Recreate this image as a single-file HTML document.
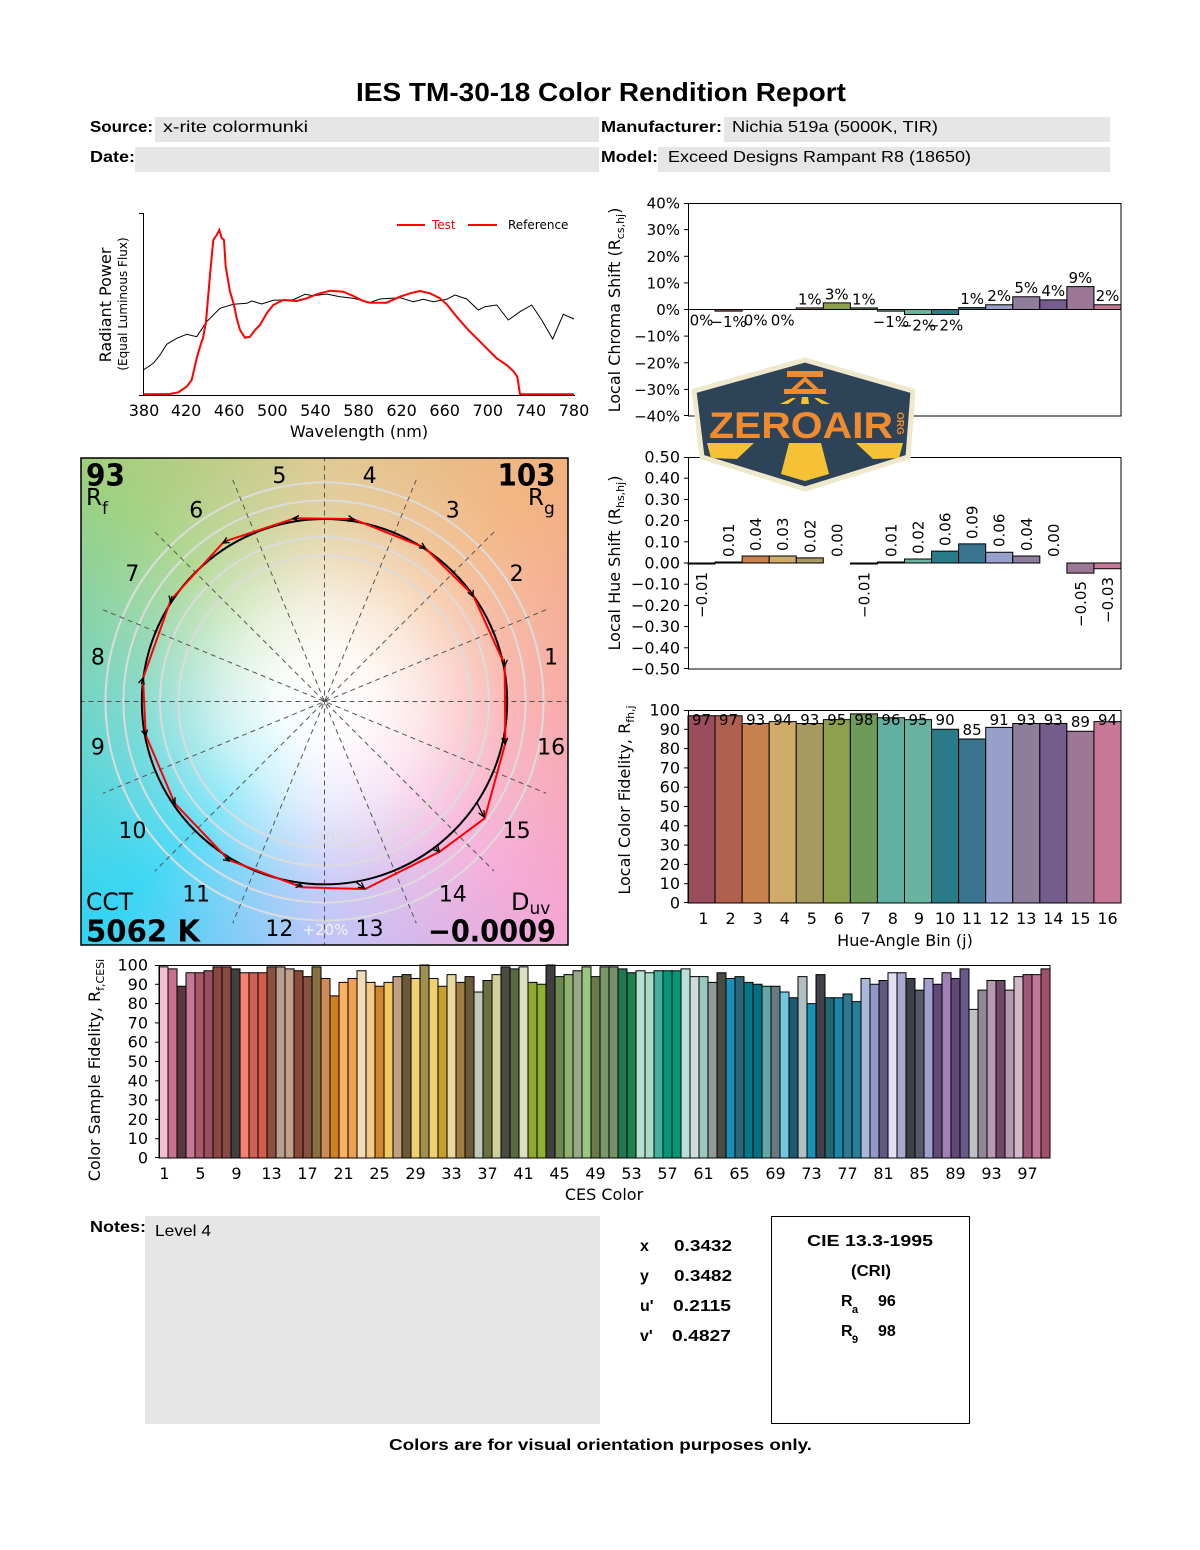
<!DOCTYPE html>
<html><head><meta charset="utf-8">
<style>
html,body{margin:0;padding:0;background:#fff;}
body{width:1200px;height:1550px;position:relative;overflow:hidden;}
#vg{position:absolute;left:81px;top:458px;width:487px;height:487px;
background: radial-gradient(circle at 50% 50%, rgba(255,255,255,1) 0px, rgba(255,255,255,0.95) 45px, rgba(255,255,255,0.72) 100px, rgba(255,255,255,0.42) 150px, rgba(255,255,255,0.2) 190px, rgba(255,255,255,0.06) 260px, rgba(255,255,255,0) 330px), conic-gradient(from 0deg at 50% 50%, #dcc488 0deg, #f2b27e 45deg, #f8a2a0 90deg, #f4a6d6 135deg, #b8bef8 180deg, #30d4f4 225deg, #64d0c0 270deg, #9ed07c 315deg, #dcc488 360deg);}
svg{position:absolute;left:0;top:0;}
.nb rect{vector-effect:non-scaling-stroke;stroke:#000;stroke-width:1;}
.d{font-family:"DejaVu Sans",sans-serif;}
.h{font-family:"Liberation Sans",sans-serif;}
</style></head><body>
<div id="vg"></div>
<svg width="1200" height="1550" viewBox="0 0 1200 1550" xmlns="http://www.w3.org/2000/svg">
<defs>
<clipPath id="vgc"><rect x="81" y="458" width="487" height="487"/></clipPath>
<marker id="ah" markerWidth="8" markerHeight="8" refX="7" refY="4" orient="auto" markerUnits="userSpaceOnUse"><path d="M1,1 L7,4 L1,7" fill="none" stroke="#000" stroke-width="1.3"/></marker>
</defs>

<!-- HEADER -->
<text class="h" x="356" y="101" font-size="26" font-weight="bold" textLength="490" lengthAdjust="spacingAndGlyphs">IES TM-30-18 Color Rendition Report</text>
<rect x="155" y="117" width="444" height="25" fill="#e6e6e6"/>
<rect x="724" y="117" width="386" height="25" fill="#e6e6e6"/>
<rect x="135" y="147" width="464" height="25" fill="#e6e6e6"/>
<rect x="658" y="147" width="452" height="25" fill="#e6e6e6"/>
<g class="h" font-size="16">
<text x="90" y="132" font-weight="bold" textLength="63" lengthAdjust="spacingAndGlyphs">Source:</text>
<text x="163" y="132" textLength="145" lengthAdjust="spacingAndGlyphs">x-rite colormunki</text>
<text x="601" y="132" font-weight="bold" textLength="121" lengthAdjust="spacingAndGlyphs">Manufacturer:</text>
<text x="732" y="132" textLength="206" lengthAdjust="spacingAndGlyphs">Nichia 519a (5000K, TIR)</text>
<text x="90" y="162" font-weight="bold" textLength="45" lengthAdjust="spacingAndGlyphs">Date:</text>
<text x="601" y="162" font-weight="bold" textLength="57" lengthAdjust="spacingAndGlyphs">Model:</text>
<text x="668" y="162" textLength="303" lengthAdjust="spacingAndGlyphs">Exceed Designs Rampant R8 (18650)</text>
</g>

<!-- SPECTRUM -->
<g stroke="#000" stroke-width="1">
<line x1="143.5" y1="213" x2="143.5" y2="396"/>
<line x1="143" y1="395.5" x2="575" y2="395.5"/>
<line x1="139" y1="213.5" x2="143" y2="213.5"/>
<line x1="139" y1="395.5" x2="143" y2="395.5"/>
</g>
<polyline fill="none" stroke="#000" stroke-width="1" points="143.3,370 153.3,363.3 160,355 166.7,344.3 176.7,338.3 186.7,334.3 196.7,336.7 206.7,321.7 220,308.3 233.3,304.3 246.7,303.3 251.7,301 261.7,304 273.3,300.3 293.3,299.7 305,294.3 313.3,295.7 326.7,294 340,296.7 353.3,298.3 370,302.3 380,299 400,297.7 413.3,301.7 423.3,299.3 433.3,301.7 446.7,299.3 455,295 466.7,299 478.3,310 485,306.7 496.7,305 508.3,320 520,311.7 531.7,305 541.7,320 552.7,339 563.3,314.3 574,319"/>
<polyline fill="none" stroke="#f00" stroke-width="2" points="143.3,394.3 170,394 178.3,392.3 186.7,386.7 191.7,380 196.7,358.3 200,346.7 203,338 206,321.7 210,275 213.3,240 216.7,235 219.3,230 221.7,238 224,240 225.7,266.7 230,291.7 234,305 236.7,318.3 240,330 245,337.7 250,336.7 255,330 260,325 266.7,313.3 273.3,305 283.3,300 296.7,301 306.7,298.3 316.7,294.3 330,290.7 343.3,291.7 353.3,296 363.3,301 370,302.7 386.7,302.7 400,296.7 410,293.3 420,291 430,293.3 440,298.3 446.7,304.3 456.7,316.7 468.3,330 476.7,338.3 486.7,348.3 496.7,358.3 506.7,365 513.3,371 517.3,376.7 520,394.3 574,394.3"/>
<line x1="397" y1="225" x2="425" y2="225" stroke="#f00" stroke-width="2"/>
<text class="d" x="432" y="229" font-size="12" fill="#f00">Test</text>
<line x1="468" y1="225" x2="497" y2="225" stroke="#f00" stroke-width="2"/>
<text class="d" x="508" y="229" font-size="12">Reference</text>
<g class="d" font-size="16" text-anchor="middle">
<text x="144" y="416">380</text><text x="186.1" y="416">420</text><text x="229.2" y="416">460</text><text x="272.3" y="416">500</text><text x="315.4" y="416">540</text><text x="358.5" y="416">580</text><text x="401.6" y="416">620</text><text x="444.7" y="416">660</text><text x="487.8" y="416">700</text><text x="530.9" y="416">740</text><text x="574" y="416">780</text>
<text x="359" y="437">Wavelength (nm)</text>
<text transform="translate(111,305) rotate(-90)">Radiant Power</text>
<text transform="translate(127,304) rotate(-90)" font-size="12">(Equal Luminous Flux)</text>
</g>

<!-- CHROMA SHIFT -->
<rect x="688.5" y="203.5" width="432.5" height="212.5" fill="none" stroke="#000"/>
<g class="nb" transform="translate(688,309.5) scale(27.0625,-2.66)">
<rect x="1" y="-0.6" width="1" height="0.6" fill="#b0604e"/>
<rect x="4" y="0" width="1" height="0.6" fill="#a89a5e"/>
<rect x="5" y="0" width="1" height="2.5" fill="#8ea04a"/>
<rect x="6" y="0" width="1" height="0.6" fill="#6e9a5a"/>
<rect x="7" y="-0.6" width="1" height="0.6" fill="#5eb0a0"/>
<rect x="8" y="-1.9" width="1" height="1.9" fill="#68b2a0"/>
<rect x="9" y="-1.9" width="1" height="1.9" fill="#2a7b88"/>
<rect x="10" y="0" width="1" height="0.7" fill="#3a7590"/>
<rect x="11" y="0" width="1" height="1.8" fill="#96a0c8"/>
<rect x="12" y="0" width="1" height="4.8" fill="#8e7e9c"/>
<rect x="13" y="0" width="1" height="3.6" fill="#745c8c"/>
<rect x="14" y="0" width="1" height="8.6" fill="#9c7896"/>
<rect x="15" y="0" width="1" height="1.8" fill="#c87896"/>
</g>
<line x1="688" y1="309.5" x2="1121" y2="309.5" stroke="#000" stroke-width="1"/>
<g stroke="#000"><line x1="684" y1="203.5" x2="688" y2="203.5"/><line x1="684" y1="229.6" x2="688" y2="229.6"/><line x1="684" y1="256.3" x2="688" y2="256.3"/><line x1="684" y1="282.9" x2="688" y2="282.9"/><line x1="684" y1="309.5" x2="688" y2="309.5"/><line x1="684" y1="336.1" x2="688" y2="336.1"/><line x1="684" y1="362.8" x2="688" y2="362.8"/><line x1="684" y1="389.4" x2="688" y2="389.4"/><line x1="684" y1="415.5" x2="688" y2="415.5"/></g>
<g class="d" font-size="15" text-anchor="end">
<text x="680" y="208.5">40%</text><text x="680" y="235.1">30%</text><text x="680" y="261.8">20%</text><text x="680" y="288.4">10%</text><text x="680" y="315">0%</text><text x="680" y="341.6">−10%</text><text x="680" y="368.3">−20%</text><text x="680" y="394.9">−30%</text><text x="680" y="421.5">−40%</text>
</g>
<g class="d" font-size="15" text-anchor="middle">
<text x="701.5" y="325.5">0%</text><text x="728.6" y="327">−1%</text><text x="755.7" y="325.5">0%</text><text x="782.7" y="325.5">0%</text>
<text x="809.8" y="304.5">1%</text><text x="836.8" y="299.5">3%</text><text x="863.9" y="304.5">1%</text>
<text x="890.9" y="327">−1%</text><text x="918" y="330.5">−2%</text><text x="945.1" y="330.5">−2%</text>
<text x="972.1" y="304">1%</text><text x="999.2" y="301">2%</text><text x="1026.3" y="293">5%</text><text x="1053.3" y="296">4%</text><text x="1080.4" y="283">9%</text><text x="1107.5" y="301">2%</text>
</g>
<text class="d" transform="translate(620,310) rotate(-90)" text-anchor="middle" font-size="16">Local Chroma Shift (R<tspan font-size="11" dy="4">cs,hj</tspan><tspan dy="-4">)</tspan></text>

<!-- HUE SHIFT -->
<rect x="688.5" y="457.5" width="432.5" height="211.5" fill="none" stroke="#000"/>
<g class="nb" transform="translate(688,563) scale(27.0625,-212)">
<rect x="0" y="-0.005" width="1" height="0.005" fill="#9b4d5e"/>
<rect x="1" y="0" width="1" height="0.005" fill="#b0604e"/>
<rect x="2" y="0" width="1" height="0.033" fill="#c7804e"/>
<rect x="3" y="0" width="1" height="0.033" fill="#d0ac6a"/>
<rect x="4" y="0" width="1" height="0.024" fill="#a89a5e"/>
<rect x="6" y="-0.005" width="1" height="0.005" fill="#6e9a5a"/>
<rect x="7" y="0" width="1" height="0.005" fill="#5eb0a0"/>
<rect x="8" y="0" width="1" height="0.019" fill="#68b2a0"/>
<rect x="9" y="0" width="1" height="0.056" fill="#2a7b88"/>
<rect x="10" y="0" width="1" height="0.09" fill="#3a7590"/>
<rect x="11" y="0" width="1" height="0.051" fill="#96a0c8"/>
<rect x="12" y="0" width="1" height="0.033" fill="#8e7e9c"/>
<rect x="14" y="-0.048" width="1" height="0.048" fill="#9c7896"/>
<rect x="15" y="-0.027" width="1" height="0.027" fill="#c87896"/>
</g>
<g stroke="#000"><line x1="684" y1="457.5" x2="688" y2="457.5"/><line x1="684" y1="478.2" x2="688" y2="478.2"/><line x1="684" y1="499.4" x2="688" y2="499.4"/><line x1="684" y1="520.6" x2="688" y2="520.6"/><line x1="684" y1="541.8" x2="688" y2="541.8"/><line x1="684" y1="563" x2="688" y2="563"/><line x1="684" y1="584.2" x2="688" y2="584.2"/><line x1="684" y1="605.4" x2="688" y2="605.4"/><line x1="684" y1="626.6" x2="688" y2="626.6"/><line x1="684" y1="647.8" x2="688" y2="647.8"/><line x1="684" y1="668.5" x2="688" y2="668.5"/></g>
<g class="d" font-size="16" text-anchor="end">
<text x="680" y="462.5">0.50</text><text x="680" y="483.7">0.40</text><text x="680" y="504.9">0.30</text><text x="680" y="526.1">0.20</text><text x="680" y="547.3">0.10</text><text x="680" y="568.5">0.00</text><text x="680" y="589.7">−0.10</text><text x="680" y="610.9">−0.20</text><text x="680" y="632.1">−0.30</text><text x="680" y="653.3">−0.40</text><text x="680" y="674.5">−0.50</text>
</g>
<g class="d" font-size="15">
<text transform="translate(707,572) rotate(-90)" text-anchor="end">−0.01</text>
<text transform="translate(734.1,557) rotate(-90)">0.01</text>
<text transform="translate(761.2,551) rotate(-90)">0.04</text>
<text transform="translate(788.2,551) rotate(-90)">0.03</text>
<text transform="translate(815.3,553) rotate(-90)">0.02</text>
<text transform="translate(842.3,557) rotate(-90)">0.00</text>
<text transform="translate(869.4,572) rotate(-90)" text-anchor="end">−0.01</text>
<text transform="translate(896.4,557) rotate(-90)">0.01</text>
<text transform="translate(923.5,554) rotate(-90)">0.02</text>
<text transform="translate(950.6,546) rotate(-90)">0.06</text>
<text transform="translate(977.6,539) rotate(-90)">0.09</text>
<text transform="translate(1004.7,547) rotate(-90)">0.06</text>
<text transform="translate(1031.8,551) rotate(-90)">0.04</text>
<text transform="translate(1058.8,557) rotate(-90)">0.00</text>
<text transform="translate(1085.9,581) rotate(-90)" text-anchor="end">−0.05</text>
<text transform="translate(1113,577) rotate(-90)" text-anchor="end">−0.03</text>
</g>
<text class="d" transform="translate(620,563) rotate(-90)" text-anchor="middle" font-size="16">Local Hue Shift (R<tspan font-size="11" dy="4">hs,hj</tspan><tspan dy="-4">)</tspan></text>

<!-- LOCAL FIDELITY -->
<g class="nb" transform="translate(688,903) scale(27.0625,-1.93)">
<rect x="0" width="1" height="97" fill="#9b4d5e"/>
<rect x="1" width="1" height="97" fill="#b0604e"/>
<rect x="2" width="1" height="93" fill="#c7804e"/>
<rect x="3" width="1" height="94" fill="#d0ac6a"/>
<rect x="4" width="1" height="93" fill="#a89a5e"/>
<rect x="5" width="1" height="95" fill="#8ea04a"/>
<rect x="6" width="1" height="98" fill="#6e9a5a"/>
<rect x="7" width="1" height="96" fill="#5eb0a0"/>
<rect x="8" width="1" height="95" fill="#68b2a0"/>
<rect x="9" width="1" height="90" fill="#2a7b88"/>
<rect x="10" width="1" height="85" fill="#3a7590"/>
<rect x="11" width="1" height="91" fill="#96a0c8"/>
<rect x="12" width="1" height="93" fill="#8e7e9c"/>
<rect x="13" width="1" height="93" fill="#745c8c"/>
<rect x="14" width="1" height="89" fill="#9c7896"/>
<rect x="15" width="1" height="94" fill="#c87896"/>
</g>
<rect x="688.5" y="710.5" width="432.5" height="192.5" fill="none" stroke="#000"/>
<g stroke="#000"><line x1="684" y1="710.5" x2="688" y2="710.5"/><line x1="684" y1="729.3" x2="688" y2="729.3"/><line x1="684" y1="748.6" x2="688" y2="748.6"/><line x1="684" y1="767.9" x2="688" y2="767.9"/><line x1="684" y1="787.2" x2="688" y2="787.2"/><line x1="684" y1="806.5" x2="688" y2="806.5"/><line x1="684" y1="825.8" x2="688" y2="825.8"/><line x1="684" y1="845.1" x2="688" y2="845.1"/><line x1="684" y1="864.4" x2="688" y2="864.4"/><line x1="684" y1="883.7" x2="688" y2="883.7"/><line x1="684" y1="902.5" x2="688" y2="902.5"/></g>
<g class="d" font-size="16" text-anchor="end">
<text x="680" y="715.5">100</text><text x="680" y="734.8">90</text><text x="680" y="754.1">80</text><text x="680" y="773.4">70</text><text x="680" y="792.7">60</text><text x="680" y="812">50</text><text x="680" y="831.3">40</text><text x="680" y="850.6">30</text><text x="680" y="869.9">20</text><text x="680" y="889.2">10</text><text x="680" y="908.5">0</text>
</g>
<g class="d" font-size="15" text-anchor="middle">
<text x="701.5" y="725">97</text><text x="728.6" y="725">97</text><text x="755.7" y="725">93</text><text x="782.7" y="725">94</text><text x="809.8" y="725">93</text><text x="836.8" y="725">95</text><text x="863.9" y="725">98</text><text x="890.9" y="725">96</text><text x="918" y="725">95</text><text x="945.1" y="725">90</text><text x="972.1" y="735">85</text><text x="999.2" y="725">91</text><text x="1026.3" y="725">93</text><text x="1053.3" y="725">93</text><text x="1080.4" y="727">89</text><text x="1107.5" y="725">94</text>
</g>
<g class="d" font-size="16" text-anchor="middle">
<text x="703.5" y="924">1</text><text x="730.6" y="924">2</text><text x="757.7" y="924">3</text><text x="784.7" y="924">4</text><text x="811.8" y="924">5</text><text x="838.8" y="924">6</text><text x="865.9" y="924">7</text><text x="892.9" y="924">8</text><text x="919" y="924">9</text><text x="945.1" y="924">10</text><text x="972.1" y="924">11</text><text x="999.2" y="924">12</text><text x="1026.3" y="924">13</text><text x="1053.3" y="924">14</text><text x="1080.4" y="924">15</text><text x="1107.5" y="924">16</text>
<text x="905" y="946">Hue-Angle Bin (j)</text>
</g>
<text class="d" transform="translate(630,800) rotate(-90)" text-anchor="middle" font-size="16">Local Color Fidelity, R<tspan font-size="11" dy="4">fh,j</tspan></text>

<!-- CES -->
<g class="nb" transform="translate(159,1158) scale(9,-1.93)">
<rect x="0" width="1" height="99" fill="#f4c0d0"/>
<rect x="1" width="1" height="98" fill="#c87090"/>
<rect x="2" width="1" height="89" fill="#5a3840"/>
<rect x="3" width="1" height="96" fill="#c87898"/>
<rect x="4" width="1" height="96" fill="#a85868"/>
<rect x="5" width="1" height="97" fill="#985060"/>
<rect x="6" width="1" height="99" fill="#8a4840"/>
<rect x="7" width="1" height="99" fill="#8a4a44"/>
<rect x="8" width="1" height="98" fill="#404040"/>
<rect x="9" width="1" height="96" fill="#f88070"/>
<rect x="10" width="1" height="96" fill="#d06050"/>
<rect x="11" width="1" height="96" fill="#d85c4a"/>
<rect x="12" width="1" height="99" fill="#8a5040"/>
<rect x="13" width="1" height="99" fill="#b8a090"/>
<rect x="14" width="1" height="98" fill="#c0a088"/>
<rect x="15" width="1" height="97" fill="#8a4838"/>
<rect x="16" width="1" height="94" fill="#885040"/>
<rect x="17" width="1" height="99" fill="#8a7040"/>
<rect x="18" width="1" height="93" fill="#d08a58"/>
<rect x="19" width="1" height="84" fill="#d08020"/>
<rect x="20" width="1" height="91" fill="#fcb060"/>
<rect x="21" width="1" height="93" fill="#f0a050"/>
<rect x="22" width="1" height="97" fill="#f0dcb8"/>
<rect x="23" width="1" height="91" fill="#f8c888"/>
<rect x="24" width="1" height="89" fill="#d08828"/>
<rect x="25" width="1" height="91" fill="#f0c860"/>
<rect x="26" width="1" height="94" fill="#c0a080"/>
<rect x="27" width="1" height="95" fill="#6a5a3a"/>
<rect x="28" width="1" height="93" fill="#f0d070"/>
<rect x="29" width="1" height="100" fill="#a09050"/>
<rect x="30" width="1" height="93" fill="#f0d070"/>
<rect x="31" width="1" height="89" fill="#c8a030"/>
<rect x="32" width="1" height="95" fill="#e8d8a0"/>
<rect x="33" width="1" height="91" fill="#a08040"/>
<rect x="34" width="1" height="94" fill="#6a5a3a"/>
<rect x="35" width="1" height="86" fill="#c0c8b8"/>
<rect x="36" width="1" height="92" fill="#6a7040"/>
<rect x="37" width="1" height="95" fill="#d0d098"/>
<rect x="38" width="1" height="99" fill="#4a4c44"/>
<rect x="39" width="1" height="98" fill="#5a6a40"/>
<rect x="40" width="1" height="99" fill="#d8e0c0"/>
<rect x="41" width="1" height="91" fill="#90a830"/>
<rect x="42" width="1" height="90" fill="#90b030"/>
<rect x="43" width="1" height="100" fill="#404040"/>
<rect x="44" width="1" height="94" fill="#6a8a50"/>
<rect x="45" width="1" height="95" fill="#90b070"/>
<rect x="46" width="1" height="97" fill="#98a888"/>
<rect x="47" width="1" height="99" fill="#98c880"/>
<rect x="48" width="1" height="94" fill="#6a7a48"/>
<rect x="49" width="1" height="99" fill="#78986a"/>
<rect x="50" width="1" height="99" fill="#78906a"/>
<rect x="51" width="1" height="98" fill="#207850"/>
<rect x="52" width="1" height="96" fill="#208050"/>
<rect x="53" width="1" height="97" fill="#b8e0d0"/>
<rect x="54" width="1" height="96" fill="#a8dcc8"/>
<rect x="55" width="1" height="97" fill="#40b0a0"/>
<rect x="56" width="1" height="97" fill="#009878"/>
<rect x="57" width="1" height="97" fill="#009878"/>
<rect x="58" width="1" height="98" fill="#b8e0d8"/>
<rect x="59" width="1" height="94" fill="#d0dcdc"/>
<rect x="60" width="1" height="94" fill="#98c8c0"/>
<rect x="61" width="1" height="91" fill="#909c9c"/>
<rect x="62" width="1" height="96" fill="#4a4c44"/>
<rect x="63" width="1" height="93" fill="#1890b8"/>
<rect x="64" width="1" height="94" fill="#2a6878"/>
<rect x="65" width="1" height="91" fill="#007888"/>
<rect x="66" width="1" height="90" fill="#007080"/>
<rect x="67" width="1" height="89" fill="#60a8a8"/>
<rect x="68" width="1" height="89" fill="#687a80"/>
<rect x="69" width="1" height="86" fill="#70c8e0"/>
<rect x="70" width="1" height="83" fill="#1a5a70"/>
<rect x="71" width="1" height="94" fill="#b0c0c0"/>
<rect x="72" width="1" height="80" fill="#1890b8"/>
<rect x="73" width="1" height="95" fill="#404048"/>
<rect x="74" width="1" height="83" fill="#206878"/>
<rect x="75" width="1" height="83" fill="#1888a8"/>
<rect x="76" width="1" height="85" fill="#307890"/>
<rect x="77" width="1" height="81" fill="#288098"/>
<rect x="78" width="1" height="93" fill="#a8b8d8"/>
<rect x="79" width="1" height="90" fill="#9098c8"/>
<rect x="80" width="1" height="92" fill="#605880"/>
<rect x="81" width="1" height="96" fill="#e0e0f0"/>
<rect x="82" width="1" height="96" fill="#a8a8d0"/>
<rect x="83" width="1" height="93" fill="#404048"/>
<rect x="84" width="1" height="87" fill="#585868"/>
<rect x="85" width="1" height="93" fill="#a0a0d0"/>
<rect x="86" width="1" height="90" fill="#604878"/>
<rect x="87" width="1" height="96" fill="#a080b8"/>
<rect x="88" width="1" height="93" fill="#604878"/>
<rect x="89" width="1" height="98" fill="#6a5888"/>
<rect x="90" width="1" height="77" fill="#c0c0c0"/>
<rect x="91" width="1" height="87" fill="#908898"/>
<rect x="92" width="1" height="92" fill="#b898b0"/>
<rect x="93" width="1" height="92" fill="#704868"/>
<rect x="94" width="1" height="87" fill="#b898b0"/>
<rect x="95" width="1" height="94" fill="#d0b8c8"/>
<rect x="96" width="1" height="95" fill="#a05878"/>
<rect x="97" width="1" height="95" fill="#c07898"/>
<rect x="98" width="1" height="98" fill="#a05068"/>
</g>
<rect x="159.5" y="965.5" width="890.5" height="192.5" fill="none" stroke="#000"/>
<g stroke="#000"><line x1="155" y1="965.5" x2="159" y2="965.5"/><line x1="155" y1="984.3" x2="159" y2="984.3"/><line x1="155" y1="1003.6" x2="159" y2="1003.6"/><line x1="155" y1="1022.9" x2="159" y2="1022.9"/><line x1="155" y1="1042.2" x2="159" y2="1042.2"/><line x1="155" y1="1061.5" x2="159" y2="1061.5"/><line x1="155" y1="1080.8" x2="159" y2="1080.8"/><line x1="155" y1="1100.1" x2="159" y2="1100.1"/><line x1="155" y1="1119.4" x2="159" y2="1119.4"/><line x1="155" y1="1138.7" x2="159" y2="1138.7"/><line x1="155" y1="1157.5" x2="159" y2="1157.5"/></g>
<g class="d" font-size="16" text-anchor="end">
<text x="148" y="970.5">100</text><text x="148" y="989.8">90</text><text x="148" y="1009.1">80</text><text x="148" y="1028.4">70</text><text x="148" y="1047.7">60</text><text x="148" y="1067">50</text><text x="148" y="1086.3">40</text><text x="148" y="1105.6">30</text><text x="148" y="1124.9">20</text><text x="148" y="1144.2">10</text><text x="148" y="1163.5">0</text>
</g>
<g class="d" font-size="16" text-anchor="middle">
<text x="164.5" y="1179">1</text><text x="200.5" y="1179">5</text><text x="236.5" y="1179">9</text><text x="271.5" y="1179">13</text><text x="307.5" y="1179">17</text><text x="343.5" y="1179">21</text><text x="379.5" y="1179">25</text><text x="415.5" y="1179">29</text><text x="451.5" y="1179">33</text><text x="487.5" y="1179">37</text><text x="523.5" y="1179">41</text><text x="559.5" y="1179">45</text><text x="595.5" y="1179">49</text><text x="631.5" y="1179">53</text><text x="667.5" y="1179">57</text><text x="703.5" y="1179">61</text><text x="739.5" y="1179">65</text><text x="775.5" y="1179">69</text><text x="811.5" y="1179">73</text><text x="847.5" y="1179">77</text><text x="883.5" y="1179">81</text><text x="919.5" y="1179">85</text><text x="955.5" y="1179">89</text><text x="991.5" y="1179">93</text><text x="1027.5" y="1179">97</text>
<text x="604" y="1200">CES Color</text>
</g>
<text class="d" transform="translate(100,1070) rotate(-90)" text-anchor="middle" font-size="16">Color Sample Fidelity, R<tspan font-size="11" dy="4">f,CESi</tspan></text>

<!-- VECTOR GRAPHIC -->
<g clip-path="url(#vgc)">
<g fill="none" stroke="#dcdcdc" stroke-width="2">
<circle cx="324.5" cy="701.5" r="146"/>
<circle cx="324.5" cy="701.5" r="164.4"/>
<circle cx="324.5" cy="701.5" r="201"/>
<circle cx="324.5" cy="701.5" r="219"/>
</g>
<g stroke="#555" stroke-width="1" stroke-dasharray="5,4">
<line x1="79.5" y1="701.5" x2="569.5" y2="701.5"/>
<line x1="324.5" y1="456.5" x2="324.5" y2="946.5"/>
<line x1="546.2" y1="609.7" x2="102.8" y2="793.3"/>
<line x1="494.2" y1="531.8" x2="154.8" y2="871.2"/>
<line x1="416.3" y1="479.8" x2="232.7" y2="923.2"/>
<line x1="232.7" y1="479.8" x2="416.3" y2="923.2"/>
<line x1="154.8" y1="531.8" x2="494.2" y2="871.2"/>
<line x1="102.8" y1="609.7" x2="546.2" y2="793.3"/>
</g>
<text class="d" x="330" y="843" font-size="15" fill="#dcdcdc" text-anchor="middle">-20%</text>
<text class="d" x="325.5" y="935" font-size="15" fill="#f2f2f2" text-anchor="middle">+20%</text>
<circle cx="324.5" cy="701.7" r="182.7" fill="none" stroke="#000" stroke-width="2"/>
<polygon fill="none" stroke="#f00" stroke-width="2" stroke-linejoin="round" points="504.7,665 473,595 424.7,547.7 353,519 294.7,518.3 224,541.7 170.7,600 143,678.3 145.7,735 174.7,803.3 228.7,860 302,887.3 334.7,888.3 365.3,889 439.7,851.7 484.7,818.3 505.3,743.3"/>
<g stroke="#000" stroke-width="1.3" marker-end="url(#ah)">
<line x1="504.3" y1="659" x2="504.7" y2="666"/>
<line x1="470" y1="590" x2="473" y2="596.5"/>
<line x1="420" y1="545" x2="425.5" y2="548.5"/>
<line x1="348" y1="518.5" x2="354" y2="519.5"/>
<line x1="299" y1="518.5" x2="293" y2="518.5"/>
<line x1="228" y1="540" x2="223" y2="543"/>
<line x1="172" y1="596" x2="170.5" y2="602"/>
<line x1="141.3" y1="684" x2="143" y2="678"/>
<line x1="144.5" y1="730" x2="145.7" y2="736"/>
<line x1="172.5" y1="799" x2="175" y2="804"/>
<line x1="225" y1="857.5" x2="229.5" y2="861"/>
<line x1="296" y1="884.5" x2="302" y2="886"/>
<line x1="356.3" y1="882.3" x2="364.5" y2="888.5"/>
<line x1="435" y1="847" x2="439.5" y2="852"/>
<line x1="477.3" y1="803.3" x2="484" y2="817"/>
<line x1="504.7" y1="738" x2="505.3" y2="744"/>
</g>
<g class="d" font-size="22" text-anchor="middle">
<text x="551.1" y="664.4">1</text><text x="516.6" y="581.2">2</text><text x="452.8" y="517.4">3</text><text x="369.6" y="482.9">4</text><text x="279.4" y="482.9">5</text><text x="196.2" y="517.4">6</text><text x="132.4" y="581.2">7</text><text x="97.9" y="664.4">8</text><text x="97.9" y="754.6">9</text><text x="132.4" y="837.8">10</text><text x="196.2" y="901.6">11</text><text x="279.4" y="936.1">12</text><text x="369.6" y="936.1">13</text><text x="452.8" y="901.6">14</text><text x="516.6" y="837.8">15</text><text x="551.1" y="754.6">16</text>
</g>
<g class="d">
<text x="86" y="485.5" font-size="30" font-weight="bold" textLength="39" lengthAdjust="spacingAndGlyphs">93</text>
<text x="86" y="505" font-size="23">R<tspan font-size="17" dy="9">f</tspan></text>
<text x="555.5" y="485.5" font-size="30" font-weight="bold" text-anchor="end" textLength="58" lengthAdjust="spacingAndGlyphs">103</text>
<text x="528" y="505" font-size="23">R<tspan font-size="17" dy="9">g</tspan></text>
<text x="86" y="910" font-size="24" textLength="47" lengthAdjust="spacingAndGlyphs">CCT</text>
<text x="86" y="941.5" font-size="30" font-weight="bold" textLength="114" lengthAdjust="spacingAndGlyphs">5062 K</text>
<text x="511" y="910" font-size="24">D<tspan font-size="17" dy="4">uv</tspan></text>
<text x="556" y="941.5" font-size="30" font-weight="bold" text-anchor="end" textLength="128" lengthAdjust="spacingAndGlyphs">−0.0009</text>
</g>
</g>
<rect x="81" y="458" width="487" height="487" fill="none" stroke="#000" stroke-width="1.5"/>

<!-- LOGO -->
<g>
<polygon points="805,360 913,391 908,457 805,489 702,457 694,391" fill="#2c4358" stroke="#efe8cb" stroke-width="5" stroke-linejoin="round"/>
<polygon points="707,443 754,443 737,459 711,458" fill="#f5c236"/>
<polygon points="789,443 821,443 829,474 805,481 781,474" fill="#f5c236"/>
<polygon points="856,443 903,443 899,458 873,459" fill="#f5c236"/>
<rect x="787" y="371" width="36" height="6" fill="#f28a2e"/>
<polygon points="805,379 818,391 792,391" fill="none" stroke="#f28a2e" stroke-width="4"/>
<rect x="784" y="389" width="42" height="5" fill="#f28a2e"/>
<polygon points="780,404 792,398 796,398 788,404" fill="#f5c236"/>
<polygon points="802,397 808,397 809,404 801,404" fill="#f5c236"/>
<polygon points="814,398 818,398 830,404 822,404" fill="#f5c236"/>
<text class="h" x="709" y="438" font-weight="bold" font-size="37" fill="#f28a2e" textLength="184" lengthAdjust="spacingAndGlyphs">ZEROAIR</text>
<text class="h" transform="translate(897,412) rotate(90)" font-size="10" font-weight="bold" fill="#f28a2e">ORG</text>
</g>

<!-- BOTTOM -->
<rect x="145" y="1216" width="455" height="208" fill="#e6e6e6"/>
<rect x="771.5" y="1216.5" width="198" height="207" fill="none" stroke="#000"/>
<g class="h" font-size="16">
<text x="90" y="1232" font-weight="bold" textLength="56" lengthAdjust="spacingAndGlyphs">Notes:</text>
<text x="155" y="1236" textLength="56" lengthAdjust="spacingAndGlyphs">Level 4</text>
<g font-weight="bold">
<text x="640" y="1251">x</text><text x="674" y="1251" textLength="58" lengthAdjust="spacingAndGlyphs">0.3432</text>
<text x="640" y="1281">y</text><text x="674" y="1281" textLength="58" lengthAdjust="spacingAndGlyphs">0.3482</text>
<text x="640" y="1311">u'</text><text x="673" y="1311" textLength="58" lengthAdjust="spacingAndGlyphs">0.2115</text>
<text x="640" y="1341">v'</text><text x="672" y="1341" textLength="59" lengthAdjust="spacingAndGlyphs">0.4827</text>
<text x="807" y="1246" textLength="126" lengthAdjust="spacingAndGlyphs">CIE 13.3-1995</text>
<text x="851" y="1276" textLength="40" lengthAdjust="spacingAndGlyphs">(CRI)</text>
<text x="841" y="1306">R</text><text x="852" y="1313" font-size="11">a</text><text x="878" y="1306">96</text>
<text x="841" y="1336">R</text><text x="852" y="1343" font-size="11">9</text><text x="878" y="1336">98</text>
<text x="389" y="1450" textLength="423" lengthAdjust="spacingAndGlyphs">Colors are for visual orientation purposes only.</text>
</g>
</g>
</svg>
</body></html>
